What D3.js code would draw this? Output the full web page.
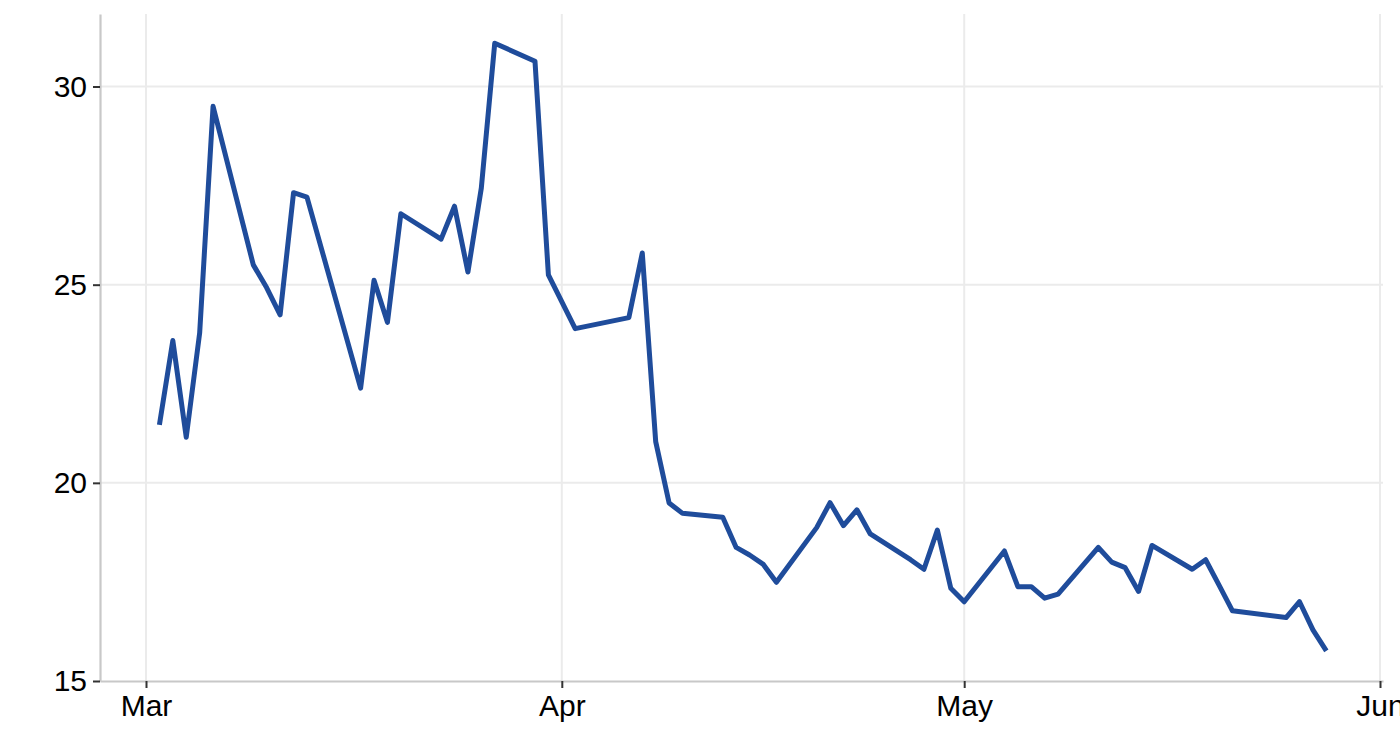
<!DOCTYPE html>
<html>
<head>
<meta charset="utf-8">
<script src="https://cdn.jsdelivr.net/npm/d3@7"></script>
<style>
  body { margin: 0; background: #fff; }
  svg { display: block; }
  .tick text { font-family: "Liberation Sans", Arial, sans-serif; fill: #000; }
</style>
</head>
<body>
<div id="chart"></div>
<script>
// weekday dates (2020) and values
const dates = [
    "2020-03-02", "2020-03-03", "2020-03-04", "2020-03-05", "2020-03-06",
    "2020-03-09", "2020-03-10", "2020-03-11", "2020-03-12", "2020-03-13",
    "2020-03-17", "2020-03-18", "2020-03-19", "2020-03-20",
    "2020-03-23", "2020-03-24", "2020-03-25", "2020-03-26", "2020-03-27",
    "2020-03-30", "2020-03-31", "2020-04-02",
    "2020-04-06", "2020-04-07", "2020-04-08", "2020-04-09", "2020-04-10",
    "2020-04-13", "2020-04-14", "2020-04-15", "2020-04-16", "2020-04-17",
    "2020-04-20", "2020-04-21", "2020-04-22", "2020-04-23", "2020-04-24",
    "2020-04-27", "2020-04-28", "2020-04-29", "2020-04-30", "2020-05-01",
    "2020-05-04", "2020-05-05", "2020-05-06", "2020-05-07", "2020-05-08",
    "2020-05-11", "2020-05-12", "2020-05-13", "2020-05-14", "2020-05-15",
    "2020-05-18", "2020-05-19", "2020-05-20", "2020-05-21",
    "2020-05-25", "2020-05-26", "2020-05-27", "2020-05-28"
];
const values = [
    21.46, 23.59, 21.15, 23.78, 29.50,
    25.50, 24.92, 24.24, 27.32, 27.21,
    22.39, 25.11, 24.05, 26.79,
    26.15, 26.98, 25.32, 27.44, 31.09,
    30.64, 25.25, 23.89,
    24.17, 25.80, 21.04, 19.49, 19.23,
    19.13, 18.37, 18.18, 17.95, 17.49,
    18.87, 19.50, 18.92, 19.32, 18.71,
    18.06, 17.82, 18.81, 17.34, 17.00,
    18.28, 17.38, 17.38, 17.09, 17.19,
    18.37, 18.00, 17.86, 17.26, 18.42,
    17.82, 18.06, 17.42, 16.77,
    16.60, 17.00, 16.29, 15.76
];
const xTickDates = ["2020-03-01", "2020-04-01", "2020-05-01", "2020-06-01"];
const xTickLabels = ["Mar", "Apr", "May", "Jun"];
const yTicks = [15, 20, 25, 30];

const width = 1400, height = 740;
const panelLeft = 100, panelRight = 1383, panelTop = 14, panelBottom = 681;

const parse = d3.utcParse("%Y-%m-%d");
const data = dates.map(function (d, i) { return {date: parse(d), value: values[i]}; });
const tickDates = xTickDates.map(parse);

// month ticks sit at fixed spots; stretch the domain out to the panel edges
const base = d3.scaleUtc()
    .domain([tickDates[0], tickDates[3]])
    .range([146, 1380]);
const x = d3.scaleUtc()
    .domain([base.invert(panelLeft), base.invert(panelRight)])
    .range([panelLeft, panelRight]);
const y = d3.scaleLinear()
    .domain([15, 31.83])
    .range([panelBottom, panelTop]);

const svg = d3.select("#chart").append("svg")
    .attr("width", width)
    .attr("height", height);

// grid
svg.append("g")
    .selectAll("line")
    .data(yTicks.slice(1))
    .enter().append("line")
    .attr("x1", panelLeft).attr("x2", panelRight)
    .attr("y1", function (d) { return y(d); })
    .attr("y2", function (d) { return y(d); })
    .attr("stroke", "#ebebeb")
    .attr("stroke-width", 2);

svg.append("g")
    .selectAll("line")
    .data(tickDates)
    .enter().append("line")
    .attr("x1", function (d) { return x(d); })
    .attr("x2", function (d) { return x(d); })
    .attr("y1", panelTop).attr("y2", panelBottom)
    .attr("stroke", "#ebebeb")
    .attr("stroke-width", 2);

// axes
const xAxis = svg.append("g")
    .attr("transform", "translate(0," + panelBottom + ")")
    .call(d3.axisBottom(x)
        .tickValues(tickDates)
        .tickFormat(function (d, i) { return xTickLabels[i]; })
        .tickSize(7)
        .tickPadding(7)
        .tickSizeOuter(0));
xAxis.select(".domain").attr("stroke", "#c8c8c8").attr("stroke-width", 2.2);
xAxis.selectAll(".tick line").attr("stroke", "#333").attr("stroke-width", 2);
xAxis.selectAll(".tick text").style("font-size", "30px");

const yAxis = svg.append("g")
    .attr("transform", "translate(" + panelLeft + ",0)")
    .call(d3.axisLeft(y)
        .tickValues(yTicks)
        .tickSize(7)
        .tickPadding(6)
        .tickSizeOuter(0));
yAxis.select(".domain").attr("stroke", "#c8c8c8").attr("stroke-width", 2.2);
yAxis.selectAll(".tick line").attr("stroke", "#333").attr("stroke-width", 2);
yAxis.selectAll(".tick text").style("font-size", "30px");

// series
const line = d3.line()
    .x(function (d) { return x(d.date); })
    .y(function (d) { return y(d.value); });

svg.append("path")
    .datum(data)
    .attr("d", line)
    .attr("fill", "none")
    .attr("stroke", "#1f4c9b")
    .attr("stroke-width", 5)
    .attr("stroke-linejoin", "round")
    .attr("stroke-linecap", "butt");
</script>
</body>
</html>
